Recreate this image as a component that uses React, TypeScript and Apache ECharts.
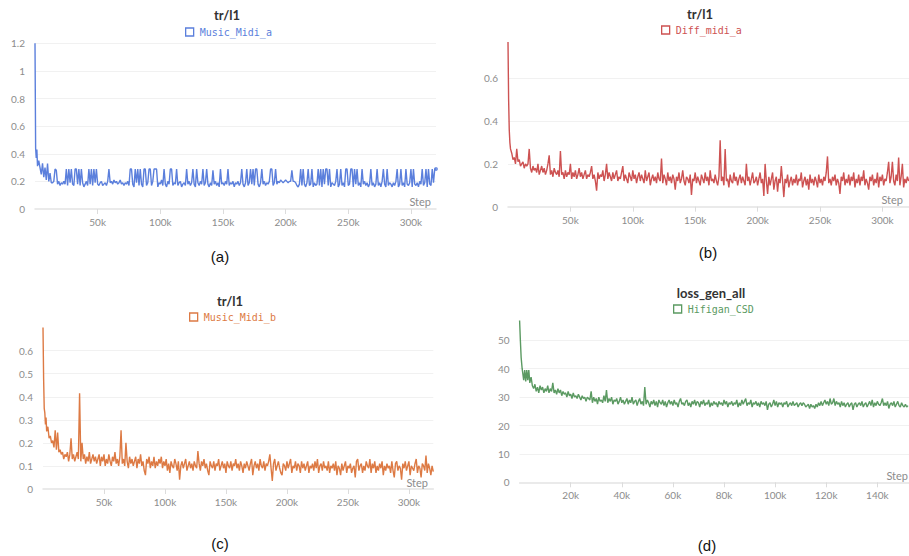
import React, { useEffect, useRef } from "react";
import * as echarts from "echarts";

// ---------- data ----------
// (a) tr/l1 — Music_Midi_a
const headA: number[][] = [
  [0, 1.2], [500, 0.44], [1000, 0.37], [1500, 0.43], [2000, 0.31], [3000, 0.35], [4000, 0.3],
  [5000, 0.25], [6000, 0.33], [7000, 0.23], [8000, 0.3], [9000, 0.21], [10000, 0.33],
  [11000, 0.2], [12000, 0.26], [13000, 0.19],
];
const tailStartA = 14000;
const tailStepA = 1000;
const tailA: number[] = [
  0.19, 0.2, 0.29, 0.28, 0.18, 0.2, 0.17, 0.19, 0.18, 0.2,
  0.18, 0.29, 0.17, 0.29, 0.19, 0.29, 0.18, 0.17, 0.29, 0.29,
  0.18, 0.29, 0.17, 0.29, 0.19, 0.16, 0.18, 0.2, 0.17, 0.29,
  0.18, 0.29, 0.17, 0.29, 0.19, 0.29, 0.18, 0.17, 0.19, 0.2,
  0.17, 0.18, 0.19, 0.17, 0.2, 0.29, 0.19, 0.2, 0.18, 0.21,
  0.19, 0.2, 0.18, 0.19, 0.21, 0.18, 0.19, 0.17, 0.19, 0.18,
  0.2, 0.17, 0.29, 0.29, 0.18, 0.16, 0.29, 0.19, 0.29, 0.17,
  0.29, 0.18, 0.16, 0.29, 0.29, 0.17, 0.19, 0.29, 0.29, 0.17,
  0.2, 0.29, 0.29, 0.29, 0.16, 0.19, 0.18, 0.21, 0.17, 0.29,
  0.18, 0.16, 0.2, 0.18, 0.29, 0.29, 0.17, 0.19, 0.18, 0.29,
  0.17, 0.19, 0.2, 0.16, 0.18, 0.19, 0.17, 0.29, 0.18, 0.2,
  0.17, 0.19, 0.29, 0.18, 0.16, 0.29, 0.19, 0.17, 0.2, 0.18,
  0.29, 0.17, 0.19, 0.29, 0.18, 0.16, 0.19, 0.17, 0.28, 0.18,
  0.2, 0.17, 0.19, 0.16, 0.29, 0.18, 0.19, 0.17, 0.2, 0.18,
  0.29, 0.17, 0.19, 0.18, 0.2, 0.16, 0.19, 0.18, 0.2, 0.17,
  0.19, 0.29, 0.18, 0.16, 0.19, 0.29, 0.17, 0.19, 0.29, 0.18,
  0.29, 0.17, 0.29, 0.29, 0.18, 0.16, 0.19, 0.29, 0.18, 0.2,
  0.17, 0.19, 0.18, 0.2, 0.29, 0.29, 0.17, 0.19, 0.29, 0.18,
  0.2, 0.19, 0.21, 0.2, 0.19, 0.2, 0.21, 0.2, 0.19, 0.2,
  0.2, 0.28, 0.2, 0.2, 0.19, 0.17, 0.16, 0.18, 0.29, 0.17,
  0.29, 0.18, 0.16, 0.19, 0.29, 0.17, 0.18, 0.29, 0.16, 0.19,
  0.17, 0.18, 0.29, 0.17, 0.29, 0.16, 0.29, 0.18, 0.29, 0.29,
  0.17, 0.29, 0.16, 0.19, 0.18, 0.17, 0.2, 0.29, 0.16, 0.18,
  0.29, 0.17, 0.19, 0.16, 0.29, 0.29, 0.17, 0.18, 0.29, 0.29,
  0.16, 0.29, 0.18, 0.29, 0.17, 0.19, 0.16, 0.29, 0.18, 0.2,
  0.17, 0.19, 0.16, 0.18, 0.29, 0.17, 0.19, 0.16, 0.18, 0.29,
  0.17, 0.19, 0.16, 0.2, 0.29, 0.18, 0.16, 0.29, 0.17, 0.19,
  0.18, 0.16, 0.19, 0.17, 0.2, 0.29, 0.16, 0.18, 0.29, 0.17,
  0.19, 0.16, 0.29, 0.18, 0.17, 0.19, 0.29, 0.16, 0.29, 0.18,
  0.17, 0.19, 0.16, 0.2, 0.18, 0.29, 0.17, 0.19, 0.29, 0.16,
  0.29, 0.18, 0.17, 0.29, 0.19, 0.29, 0.29,
];

// (b) tr/l1 — Diff_midi_a
const headB: number[][] = [
  [0, 0.77], [500, 0.5], [1000, 0.36], [1500, 0.3], [2000, 0.27], [3000, 0.25], [4000, 0.22],
  [5000, 0.23], [6000, 0.2], [7000, 0.27], [8000, 0.21], [9000, 0.22], [10000, 0.19], [11000, 0.2],
];
const tailStartB = 12000;
const tailStepB = 1000;
const tailB: number[] = [
  0.21, 0.18, 0.2, 0.19, 0.2, 0.27, 0.18, 0.16, 0.19, 0.17,
  0.18, 0.16, 0.2, 0.15, 0.17, 0.19, 0.16, 0.18, 0.15, 0.17,
  0.2, 0.24, 0.15, 0.17, 0.14, 0.18, 0.16, 0.15, 0.17, 0.14,
  0.26, 0.15, 0.16, 0.13, 0.17, 0.14, 0.16, 0.15, 0.2, 0.13,
  0.16, 0.14, 0.17, 0.13, 0.15, 0.18, 0.14, 0.16, 0.13, 0.15,
  0.17, 0.13, 0.15, 0.14, 0.16, 0.19, 0.13, 0.15, 0.12, 0.075,
  0.16, 0.13, 0.15, 0.14, 0.17, 0.12, 0.15, 0.2, 0.13, 0.16,
  0.14, 0.12, 0.16, 0.13, 0.15, 0.17, 0.12, 0.14, 0.13, 0.16,
  0.19, 0.12, 0.15, 0.13, 0.11, 0.16, 0.14, 0.12, 0.17, 0.13,
  0.15, 0.11, 0.14, 0.16, 0.12, 0.15, 0.13, 0.11, 0.17, 0.12,
  0.14, 0.16, 0.1, 0.13, 0.15, 0.12, 0.14, 0.11, 0.16, 0.13,
  0.12, 0.225, 0.11, 0.15, 0.13, 0.1, 0.16, 0.12, 0.14, 0.11,
  0.15, 0.13, 0.08, 0.14, 0.12, 0.16, 0.11, 0.13, 0.17, 0.12,
  0.1, 0.14, 0.13, 0.11, 0.15, 0.055, 0.13, 0.12, 0.16, 0.11,
  0.14, 0.12, 0.1, 0.15, 0.13, 0.11, 0.16, 0.12, 0.14, 0.1,
  0.17, 0.12, 0.13, 0.11, 0.15, 0.12, 0.1, 0.14, 0.31, 0.12,
  0.14, 0.1, 0.27, 0.12, 0.13, 0.09, 0.15, 0.12, 0.11, 0.16,
  0.12, 0.14, 0.1, 0.13, 0.15, 0.11, 0.14, 0.12, 0.1, 0.2,
  0.12, 0.14, 0.1, 0.13, 0.16, 0.11, 0.12, 0.14, 0.1, 0.13,
  0.16, 0.11, 0.13, 0.05, 0.2, 0.12, 0.06, 0.14, 0.1, 0.13,
  0.16, 0.08, 0.12, 0.14, 0.07, 0.13, 0.11, 0.19, 0.12, 0.045,
  0.13, 0.11, 0.15, 0.09, 0.12, 0.14, 0.1, 0.13, 0.11, 0.15,
  0.1, 0.13, 0.12, 0.16, 0.09, 0.12, 0.14, 0.1, 0.13, 0.08,
  0.15, 0.11, 0.13, 0.1, 0.14, 0.12, 0.09, 0.15, 0.11, 0.13,
  0.1, 0.14, 0.12, 0.16, 0.235, 0.11, 0.13, 0.1, 0.14, 0.12,
  0.15, 0.1, 0.13, 0.11, 0.06, 0.14, 0.12, 0.16, 0.1, 0.13,
  0.11, 0.15, 0.1, 0.14, 0.12, 0.16, 0.09, 0.13, 0.11, 0.15,
  0.1, 0.14, 0.12, 0.17, 0.1, 0.13, 0.11, 0.08, 0.14, 0.12,
  0.15, 0.1, 0.13, 0.11, 0.16, 0.09, 0.14, 0.12, 0.15, 0.1,
  0.13, 0.12, 0.16, 0.21, 0.11, 0.14, 0.21, 0.12, 0.1, 0.15,
  0.12, 0.23, 0.1, 0.14, 0.2, 0.09, 0.13, 0.11, 0.14, 0.12,
];

// (c) tr/l1 — Music_Midi_b
const headC: number[][] = [
  [0, 0.7], [500, 0.48], [1000, 0.35], [1500, 0.33], [2000, 0.28], [2500, 0.31], [3000, 0.25],
  [4000, 0.27], [5000, 0.22], [6000, 0.23], [7000, 0.2], [8000, 0.21], [9000, 0.18],
  [10000, 0.255], [11000, 0.17], [12000, 0.245], [13000, 0.16],
];
const tailStartC = 14000;
const tailStepC = 1000;
const tailC: number[] = [
  0.17, 0.15, 0.16, 0.13, 0.15, 0.14, 0.16, 0.12, 0.15, 0.22,
  0.13, 0.15, 0.12, 0.14, 0.16, 0.13, 0.415, 0.12, 0.2, 0.13,
  0.15, 0.11, 0.14, 0.12, 0.16, 0.11, 0.13, 0.15, 0.12, 0.14,
  0.11, 0.13, 0.15, 0.1, 0.14, 0.12, 0.15, 0.1, 0.13, 0.11,
  0.15, 0.12, 0.1, 0.14, 0.12, 0.16, 0.11, 0.13, 0.1, 0.14,
  0.255, 0.11, 0.13, 0.1, 0.2, 0.12, 0.09, 0.14, 0.11, 0.13,
  0.1, 0.12, 0.14, 0.09, 0.13, 0.11, 0.15, 0.1, 0.12, 0.08,
  0.06, 0.13, 0.11, 0.14, 0.09, 0.12, 0.1, 0.14, 0.09, 0.12,
  0.1, 0.13, 0.11, 0.14, 0.09, 0.12, 0.1, 0.13, 0.08, 0.11,
  0.07, 0.12, 0.1, 0.09, 0.13, 0.11, 0.08, 0.12, 0.04, 0.1,
  0.12, 0.09, 0.11, 0.13, 0.08, 0.1, 0.12, 0.09, 0.11, 0.08,
  0.12, 0.1, 0.09, 0.165, 0.11, 0.08, 0.12, 0.1, 0.13, 0.09,
  0.11, 0.08, 0.06, 0.12, 0.1, 0.09, 0.12, 0.08, 0.11, 0.1,
  0.13, 0.08, 0.1, 0.12, 0.09, 0.11, 0.07, 0.12, 0.1, 0.09,
  0.12, 0.08, 0.11, 0.1, 0.13, 0.09, 0.11, 0.08, 0.12, 0.1,
  0.07, 0.11, 0.09, 0.12, 0.1, 0.08, 0.11, 0.13, 0.06, 0.1,
  0.12, 0.09, 0.11, 0.08, 0.13, 0.1, 0.09, 0.12, 0.08, 0.11,
  0.1, 0.12, 0.15, 0.09, 0.035, 0.11, 0.13, 0.08, 0.1, 0.12,
  0.09, 0.07, 0.06, 0.11, 0.1, 0.08, 0.12, 0.09, 0.11, 0.13,
  0.07, 0.1, 0.09, 0.12, 0.08, 0.11, 0.1, 0.07, 0.12, 0.09,
  0.11, 0.08, 0.1, 0.12, 0.07, 0.1, 0.09, 0.11, 0.08, 0.12,
  0.09, 0.13, 0.07, 0.1, 0.11, 0.08, 0.12, 0.09, 0.1, 0.08,
  0.12, 0.07, 0.1, 0.09, 0.11, 0.08, 0.12, 0.06, 0.1, 0.09,
  0.06, 0.11, 0.08, 0.1, 0.12, 0.07, 0.1, 0.09, 0.11, 0.07,
  0.09, 0.1, 0.05, 0.12, 0.13, 0.08, 0.1, 0.11, 0.07, 0.1,
  0.08, 0.12, 0.1, 0.09, 0.13, 0.07, 0.11, 0.09, 0.12, 0.07,
  0.1, 0.08, 0.11, 0.09, 0.12, 0.06, 0.1, 0.08, 0.11, 0.09,
  0.1, 0.07, 0.12, 0.08, 0.05, 0.11, 0.12, 0.08, 0.1, 0.09,
  0.04, 0.11, 0.09, 0.12, 0.08, 0.1, 0.12, 0.06, 0.1, 0.09,
  0.08, 0.11, 0.13, 0.07, 0.1, 0.09, 0.05, 0.11, 0.1, 0.08,
  0.145, 0.07, 0.11, 0.09, 0.06, 0.1, 0.075,
];

// (d) loss_gen_all — Hifigan_CSD
const headD: number[][] = [
  [0, 57], [300, 50], [600, 44], [1000, 40], [1300, 38], [1600, 36], [2000, 39.5], [2400, 35.5],
  [2800, 39.5], [3200, 36], [3600, 39.5], [4000, 35], [4500, 37], [5000, 34], [5500, 33],
  [6000, 34.5], [6500, 32], [7000, 33.5], [7500, 31.5],
];
const tailStartD = 8000;
const tailStepD = 500;
const tailD: number[] = [
  34, 32.5, 33.5, 31.5, 33, 32, 34, 31.5, 33, 32,
  35, 31.5, 32.5, 31, 33, 31.5, 32.5, 30.5, 32, 31,
  31.5, 30, 32, 30.5, 31, 29.5, 31.5, 30, 30.5, 29.5,
  31, 30, 29, 30.5, 29.5, 30, 28.5, 30, 29.5, 29,
  32, 28, 30, 28.5, 29.5, 27.5, 30, 28.5, 29, 28,
  30.5, 28.5, 32.5, 28, 29.5, 28.5, 30, 27.5, 29, 28.5,
  29.5, 27.5, 28.5, 30, 28, 29, 27.5, 28.5, 29.5, 27.5,
  29, 28, 30, 27.5, 28.5, 29, 27, 28.5, 29.5, 27.5,
  28.5, 27, 33.5, 27.5, 29, 28, 26.5, 28.5, 27.5, 29,
  27, 28.5, 26.5, 29, 28, 27.5, 29, 27, 28.5, 26.5,
  28, 29, 27.5, 28.5, 27, 29, 27.5, 28, 26.5, 28.5,
  29.5, 27.5, 28, 27, 28.5, 29, 27, 28, 26.5, 28.5,
  27.5, 29, 27, 28.5, 28, 26.5, 28.5, 27.5, 29, 27,
  28, 27.5, 29, 26.5, 28, 27, 28.5, 27.5, 28, 26.5,
  28.5, 27.5, 28, 27, 29, 27.5, 28.5, 26.5, 28, 27.5,
  28.5, 27, 28, 27.5, 29, 26.5, 28, 27, 29, 27.5,
  28.5, 29.5, 27, 28, 27.5, 29, 26.5, 28, 27.5, 28.5,
  27, 28, 26.5, 28.5, 27.5, 28, 27, 28.5, 25.5, 27.5,
  28, 26.5, 27.5, 29, 27, 28.5, 26.5, 28, 27.5, 28,
  26.5, 28, 27.5, 28.5, 26.5, 27.5, 28, 27, 28.5, 27,
  27.5, 28, 26.5, 27.5, 28, 27, 28, 27.5, 26.5, 27,
  27.5, 26, 27.5, 26.5, 27, 26, 27.5, 26.5, 28, 27,
  28.5, 27, 28, 29, 27.5, 28.5, 27, 29.5, 27.5, 28,
  29.5, 27, 28.5, 27.5, 28, 26.5, 28.5, 27, 28, 26.5,
  27.5, 28, 26.5, 27.5, 28, 25.5, 27.5, 28, 26.5, 27.5,
  28, 27, 28.5, 26.5, 27.5, 28, 26.5, 27.5, 28.5, 27,
  29, 26.5, 28, 27, 28.5, 27.5, 27, 28, 29.5, 27,
  28, 27, 28.5, 26, 27.5, 28, 27, 28.5, 26.5, 27.5,
  28.5, 27, 26.5, 28, 27, 26.5, 27.5, 26.5, 27,
];

const stepTicks320 = [50000, 100000, 150000, 200000, 250000, 300000];
const stepTicks150 = [20000, 40000, 60000, 80000, 100000, 120000, 140000];

const titles = ["tr/l1", "tr/l1", "tr/l1", "loss_gen_all"];
const seriesNames = ["Music_Midi_a", "Diff_midi_a", "Music_Midi_b", "Hifigan_CSD"];
const captions = ["(a)", "(b)", "(c)", "(d)"];
const colors = ["#5b7fdc", "#cd5252", "#dd7a44", "#5b9a62"];

function build(head: number[][], start: number, step: number, tail: number[]): number[][] {
  return head.concat(tail.map((v, i) => [start + i * step, v]));
}

const LABEL_COLOR = "#8c8c8c";
const FONT = "Lato, 'Noto Sans', sans-serif";

export default function App() {
  const ref = useRef<HTMLDivElement>(null);
  useEffect(() => {
    if (!ref.current) return;
    const chart = echarts.init(ref.current, undefined, { renderer: "svg" });

    const dataA = build(headA, tailStartA, tailStepA, tailA);
    const dataB = build(headB, tailStartB, tailStepB, tailB);
    const dataC = build(headC, tailStartC, tailStepC, tailC);
    const dataD = build(headD, tailStartD, tailStepD, tailD);
    const datas = [dataA, dataB, dataC, dataD];

    const grids = [
      { left: 35, top: 43.3, width: 401, height: 165.7 },
      { left: 508, top: 39.8, width: 401, height: 166.9 },
      { left: 43, top: 327.6, width: 390.3, height: 161.4 },
      { left: 519.6, top: 319, width: 389.4, height: 163.3 },
    ];
    const xMax = [320000, 321300, 320000, 152400];
    const xInt = [50000, 50000, 50000, 20000];
    const xTicks = [stepTicks320, stepTicks320, stepTicks320, stepTicks150];
    const yMax = [1.2, 0.78, 0.7, 57.5];
    const yInt = [0.2, 0.2, 0.1, 10];
    const yShowMax = [true, false, false, false];

    const legendPos = [
      { left: 185, top: 27 },
      { left: 661, top: 25 },
      { left: 189, top: 312 },
      { left: 673, top: 304 },
    ];

    const titlePos = [
      [227, 15],
      [700, 14],
      [230, 301],
      [711, 293],
    ];
    const stepPos: [number, number, string][] = [
      [431, 201, "right"],
      [903, 199, "right"],
      [428, 482, "right"],
      [908, 475, "right"],
    ];
    const captionPos = [
      [220, 256],
      [708, 252],
      [220, 543],
      [707, 545],
    ];

    const graphic: any[] = [];
    for (let i = 0; i < 4; i++) {
      graphic.push({
        type: "text",
        x: titlePos[i][0],
        y: titlePos[i][1],
        style: {
          text: titles[i],
          align: "center",
          verticalAlign: "middle",
          fontFamily: FONT,
          fontWeight: "bold",
          fontSize: 13,
          fill: "#333333",
        },
      });
      graphic.push({
        type: "text",
        x: stepPos[i][0],
        y: stepPos[i][1],
        z: 100,
        style: {
          text: "Step",
          align: stepPos[i][2],
          verticalAlign: "middle",
          fontFamily: FONT,
          fontSize: 11,
          fill: LABEL_COLOR,
        },
      });
      graphic.push({
        type: "text",
        x: captionPos[i][0],
        y: captionPos[i][1],
        style: {
          text: captions[i],
          align: "center",
          verticalAlign: "middle",
          fontFamily: "'Liberation Sans', Arial, sans-serif",
          fontSize: 15,
          fill: "#111111",
        },
      });
    }

    const series: any[] = datas.map((d, i) => ({
      type: "line",
      name: seriesNames[i],
      xAxisIndex: i,
      yAxisIndex: i,
      data: d,
      showSymbol: false,
      symbol: "none",
      silent: true,
      color: colors[i],
      lineStyle: { width: 1.4, color: colors[i] },
    }));
    const lastA = dataA[dataA.length - 1];
    series.push({
      type: "scatter",
      name: "endA",
      xAxisIndex: 0,
      yAxisIndex: 0,
      data: [lastA],
      symbolSize: 4,
      silent: true,
      itemStyle: { color: colors[0] },
    });

    const option: any = {
      animation: false,
      backgroundColor: "#ffffff",
      grid: grids,
      legend: legendPos.map((p, i) => ({
        data: [seriesNames[i]],
        left: p.left,
        top: p.top,
        icon: "rect",
        itemWidth: 8,
        itemHeight: 8,
        selectedMode: false,
        padding: 0,
        itemStyle: { color: "transparent", borderColor: colors[i], borderWidth: 1.3 },
        textStyle: { color: colors[i], fontFamily: "'DejaVu Sans Mono', monospace", fontSize: 10, padding: [0, 0, 0, 1] },
      })),
      xAxis: grids.map((_, i) => ({
        type: "value",
        gridIndex: i,
        min: 0,
        max: xMax[i],
        interval: xInt[i],
        axisLine: { show: true, lineStyle: { color: "#e3e3e3", width: 1.5 } },
        axisTick: { show: true, length: 5, customValues: xTicks[i], lineStyle: { color: "#dcdcdc" } },
        axisLabel: {
          show: true,
          customValues: xTicks[i],
          margin: 8,
          color: LABEL_COLOR,
          fontFamily: FONT,
          fontSize: 10,
          formatter: (v: number) => (v === 0 ? "" : v / 1000 + "k"),
        },
        splitLine: { show: false },
      })),
      yAxis: grids.map((_, i) => ({
        type: "value",
        gridIndex: i,
        min: 0,
        max: yMax[i],
        interval: yInt[i],
        axisLine: { show: false },
        axisTick: { show: false },
        axisLabel: {
          margin: 10,
          color: LABEL_COLOR,
          fontFamily: FONT,
          fontSize: 10,
          showMaxLabel: yShowMax[i],
        },
        splitLine: {
          show: true,
          showMinLine: false,
          showMaxLine: yShowMax[i],
          lineStyle: { color: "#f1f1f1", width: 1 },
        },
      })),
      series,
      graphic,
    };
    chart.setOption(option);
    return () => chart.dispose();
  }, []);
  return (
    <div
      ref={ref}
      style={{ position: "absolute", left: 0, top: 0, width: 909, height: 556, background: "#fff" }}
    />
  );
}
